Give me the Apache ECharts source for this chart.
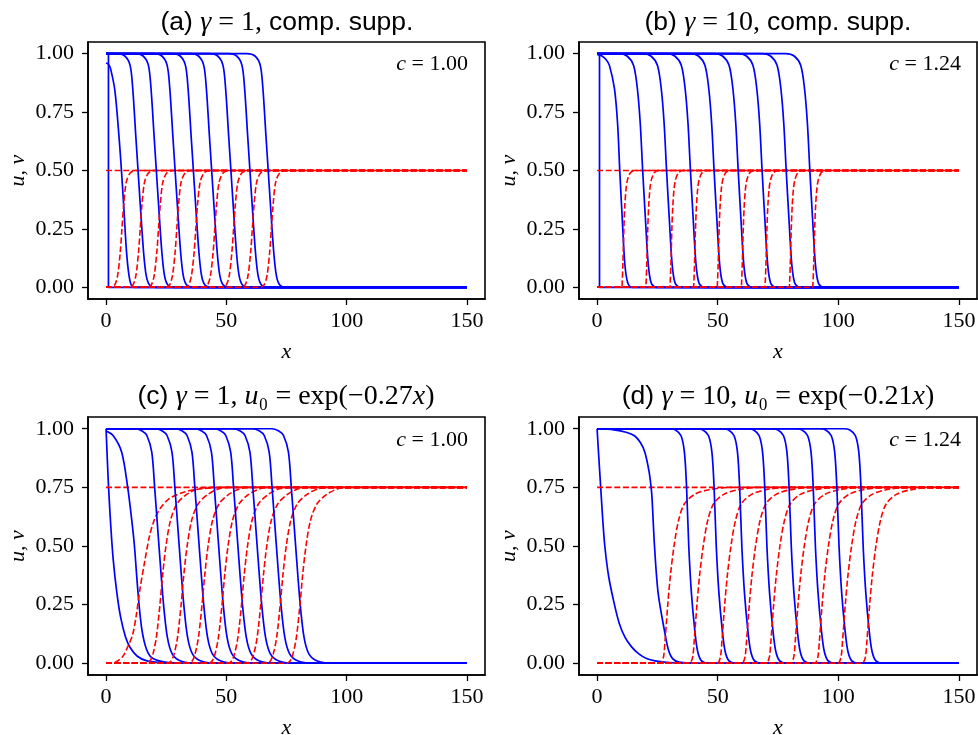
<!DOCTYPE html>
<html>
<head>
<meta charset="utf-8">
<script src="https://cdn.jsdelivr.net/npm/echarts@6/dist/echarts.min.js"></script>
<style>
html, body { margin: 0; padding: 0; background: #fff; }
#chart { width: 978px; height: 735px; }
</style>
</head>
<body>
<div id="chart"></div>
<script>
// tick values
const xTicks = [0, 50, 100, 150]
const yTicks = [0, 0.25, 0.5, 0.75, 1]

// (a) gamma = 1, compact support
const aBlueInit = [[0, 1], [1, 1], [1, 0], [150, 0]]
const aBlueFirst = [[0, 0.96], [1, 0.955], [1.9, 0.935], [3.7, 0.84], [5.5, 0.63], [6.4, 0.5], [7.4, 0.34], [8.6, 0.14], [9.9, 0.03], [11.5, 0], [150, 0]]
const aBlueFronts = [13.3, 20.9, 28.7, 36.3, 43.9, 51.9, 59.8, 67.4]
const aBlueLevels = [1, 0.99, 0.95, 0.85, 0.65, 0.5, 0.35, 0.15, 0.05, 0.01, 0]
const aBlueOffsets = [-9, -5.5, -3.3, -2.2, -0.95, 0, 0.95, 2.3, 3.4, 4.8, 7.5]
const aRedInit = [[0, 0.5], [150, 0.5]]
const aRedFronts = [6.6, 14.2, 21.8, 29.4, 37.3, 45.2, 53.0, 60.8, 68.7]
const aRedLevels = [0, 0.01, 0.05, 0.15, 0.25, 0.35, 0.45, 0.49, 0.5]
const aRedOffsets = [-4.5, -3, -1.8, -0.7, 0, 0.7, 1.8, 3.5, 6]

// (b) gamma = 10, compact support
const bBlueInit = [[0, 1], [1, 1], [1, 0], [150, 0]]
const bBlueFirst = [[0, 0.997], [2, 0.99], [3.7, 0.975], [5.1, 0.95], [7.2, 0.85], [8.5, 0.7], [9.4, 0.5], [10.4, 0.3], [11.5, 0.1], [12.7, 0.02], [14.5, 0], [150, 0]]
const bBlueFronts = [18.9, 28.8, 38.7, 48.5, 58.5, 68.4, 78.4, 88.2]
const bBlueLevels = [1, 0.99, 0.95, 0.85, 0.7, 0.5, 0.3, 0.1, 0.02, 0]
const bBlueOffsets = [-10, -6.5, -3.8, -2.2, -1, 0, 1.1, 2.3, 3.5, 5.5]
const bRedInit = [[0, 0.5], [150, 0.5]]
const bRedFronts = [11.1, 21.0, 31.0, 40.8, 50.6, 60.6, 70.4, 80.5, 90.2]
const bRedLevels = [0, 0.02, 0.1, 0.25, 0.35, 0.42, 0.46, 0.49, 0.5]
const bRedOffsets = [-0.9, -0.7, -0.4, 0, 0.4, 0.9, 1.5, 2.7, 4.5]

// (c) gamma = 1, u0 = exp(-0.27x)
const cBlueInit = [[0, 1], [1, 0.76], [2, 0.58], [3, 0.44], [4.5, 0.3], [6, 0.2], [8, 0.115], [10, 0.067], [13, 0.03], [17, 0.01], [25, 0.001], [35, 0], [150, 0]]
const cBlueFirst = [[0, 0.99], [3, 0.97], [6.5, 0.9], [9, 0.75], [10.8, 0.6], [11.8, 0.5], [13.3, 0.3], [14.8, 0.15], [16.8, 0.06], [19.5, 0.02], [26, 0.003], [35, 0], [150, 0]]
const cBlueFronts = [22, 30.4, 38.7, 46.8, 54.8, 62.8, 70.8, 78.8]
const cBlueLevels = [1, 0.99, 0.97, 0.9, 0.75, 0.5, 0.25, 0.11, 0.04, 0.01, 0]
const cBlueOffsets = [-10, -7, -5, -3, -1.8, 0, 1.9, 3.5, 5.5, 9, 16]
const cRedInit = [[0, 0.75], [150, 0.75]]
const cRedFirst = [[0, 0], [4, 0.005], [7, 0.03], [9, 0.07], [11, 0.12], [12.5, 0.2], [14, 0.31], [16, 0.43], [18, 0.54], [20, 0.61], [22.5, 0.66], [26, 0.7], [31, 0.725], [38, 0.742], [50, 0.75], [150, 0.75]]
const cRedFronts = [23.5, 32.3, 41, 49.3, 57.4, 65.4, 73.5, 81.7]
const cRedLevels = [0, 0.01, 0.04, 0.11, 0.25, 0.375, 0.5, 0.61, 0.68, 0.72, 0.745, 0.75]
const cRedOffsets = [-7, -5.2, -4, -2.6, -1.1, 0, 1.4, 3.3, 6, 10, 15, 21]

// (d) gamma = 10, u0 = exp(-0.21x)
const dBlueInit = [[0, 1], [0.7, 0.88], [1.5, 0.75], [2.3, 0.62], [3.2, 0.5], [4.8, 0.37], [7.2, 0.25], [9.2, 0.17], [11.6, 0.11], [14.3, 0.07], [17.3, 0.04], [20.5, 0.02], [24, 0.01], [30, 0.003], [40, 0], [150, 0]]
const dBlueFirst = [[0, 1], [7, 0.995], [12, 0.985], [15.5, 0.97], [18, 0.94], [19.8, 0.9], [21.5, 0.82], [22.4, 0.75], [22.8, 0.7], [23.8, 0.5], [25.3, 0.3], [27.9, 0.14], [29.5, 0.06], [31.3, 0.02], [34, 0.005], [42, 0], [150, 0]]
const dBlueFronts = [38.0, 49.4, 60.0, 70.4, 80.5, 90.5, 100.3, 110.3]
const dBlueLevels = [1, 0.995, 0.97, 0.9, 0.75, 0.5, 0.3, 0.14, 0.05, 0.01, 0]
const dBlueOffsets = [-8, -5.5, -3.2, -1.8, -0.9, 0, 1.1, 2.5, 3.7, 5.3, 8]
const dRedInit = [[0, 0.75], [150, 0.75]]
const dRedFronts = [30.4, 42.5, 54.0, 64.2, 74.3, 84.4, 94.4, 104.0, 114.1]
const dRedLevels = [0, 0.005, 0.03, 0.1, 0.25, 0.375, 0.5, 0.61, 0.68, 0.72, 0.74, 0.75]
const dRedOffsets = [-4.5, -3.6, -2.8, -2.2, -1.1, 0, 1.5, 3.4, 5.8, 10, 16, 25]

// build a front from its position and the panel's profile
function frontCurve (mid, offsets, levels) {
  const pts = [[0, levels[0]]]
  offsets.forEach(function (o, i) { pts.push([mid + o, levels[i]]) })
  pts.push([150, levels[levels.length - 1]])
  return pts
}

const panels = [
  {
    blue: [aBlueInit, aBlueFirst].concat(aBlueFronts.map(m => frontCurve(m, aBlueOffsets, aBlueLevels))),
    red: [aRedInit].concat(aRedFronts.map(m => frontCurve(m, aRedOffsets, aRedLevels)))
  },
  {
    blue: [bBlueInit, bBlueFirst].concat(bBlueFronts.map(m => frontCurve(m, bBlueOffsets, bBlueLevels))),
    red: [bRedInit].concat(bRedFronts.map(m => frontCurve(m, bRedOffsets, bRedLevels)))
  },
  {
    blue: [cBlueInit, cBlueFirst].concat(cBlueFronts.map(m => frontCurve(m, cBlueOffsets, cBlueLevels))),
    red: [cRedInit, cRedFirst].concat(cRedFronts.map(m => frontCurve(m, cRedOffsets, cRedLevels)))
  },
  {
    blue: [dBlueInit, dBlueFirst].concat(dBlueFronts.map(m => frontCurve(m, dBlueOffsets, dBlueLevels))),
    red: [dRedInit].concat(dRedFronts.map(m => frontCurve(m, dRedOffsets, dRedLevels)))
  }
]

const gridBoxes = [
  { left: 88, top: 42, width: 397, height: 257 },
  { left: 579, top: 42, width: 398, height: 257 },
  { left: 88, top: 417, width: 397, height: 258 },
  { left: 579, top: 417, width: 398, height: 258 }
]

const serif = 'Liberation Serif'
const sans = 'Liberation Sans'
const tickSize = 22
const titleSize = 26.5
const mathSize = 28

const grids = []
const xAxes = []
const yAxes = []
const series = []

gridBoxes.forEach(function (g, i) {
  grids.push(Object.assign({
    show: true,
    borderColor: '#000',
    borderWidth: 1.6,
    backgroundColor: '#fff',
    containLabel: false,
    outerBoundsMode: 'none'
  }, g))
  xAxes.push({
    type: 'value',
    gridIndex: i,
    min: -7.5,
    max: 157.5,
    name: 'x',
    nameLocation: 'middle',
    nameGap: 42,
    nameTextStyle: { fontFamily: serif, fontStyle: 'italic', fontSize: tickSize, color: '#000' },
    axisLine: { show: true, onZero: false, lineStyle: { color: '#000', width: 1.6 } },
    axisTick: { show: true, customValues: xTicks, length: 6, lineStyle: { color: '#000', width: 1.3 } },
    axisLabel: { customValues: xTicks, margin: 11, fontFamily: serif, fontSize: tickSize, color: '#000', formatter: v => String(v) },
    splitLine: { show: false }
  })
  yAxes.push({
    type: 'value',
    gridIndex: i,
    min: -0.05,
    max: 1.05,
    name: 'u, v',
    nameLocation: 'middle',
    nameGap: 59,
    nameTextStyle: { fontFamily: serif, fontStyle: 'italic', fontSize: tickSize, color: '#000' },
    axisLine: { show: true, onZero: false, lineStyle: { color: '#000', width: 1.6 } },
    axisTick: { show: true, customValues: yTicks, length: 6, lineStyle: { color: '#000', width: 1.3 } },
    axisLabel: { customValues: yTicks, margin: 14, fontFamily: serif, fontSize: tickSize, color: '#000', formatter: v => v.toFixed(2) },
    splitLine: { show: false }
  })
  const p = panels[i]
  for (let k = 0; k < 10; k++) {
    const pairs = [
      [p.blue[k], { color: '#0000ff', width: 1.7 }],
      [p.red[k], { color: '#ff0000', width: 1.6, type: [6, 2.6] }]
    ]
    pairs.forEach(function (pr) {
      series.push({
        type: 'line',
        xAxisIndex: i,
        yAxisIndex: i,
        data: pr[0],
        showSymbol: false,
        symbol: 'none',
        smooth: pr[0] === aBlueInit || pr[0] === bBlueInit || pr[0].length === 2 ? false : 0.3,
        lineStyle: pr[1],
        silent: true
      })
    })
  }
})

const richTitle = {
  s: { fontFamily: sans, fontSize: titleSize, color: '#000' },
  m: { fontFamily: serif, fontStyle: 'italic', fontSize: mathSize, color: '#000' },
  r: { fontFamily: serif, fontSize: mathSize, color: '#000' }
}
const richNote = {
  m: { fontFamily: serif, fontStyle: 'italic', fontSize: tickSize, color: '#000' },
  r: { fontFamily: serif, fontSize: tickSize, color: '#000' }
}

function label (text, x, y, align, rich) {
  return { type: 'text', z: 100, style: { text: text, x: x, y: y, align: align, verticalAlign: 'middle', rich: rich } }
}

const option = {
  animation: false,
  backgroundColor: '#fff',
  grid: grids,
  xAxis: xAxes,
  yAxis: yAxes,
  series: series,
  graphic: [
    label('{s|(a) }{m|γ}{r| = 1, }{s|comp. supp.}', 287, 23, 'center', richTitle),
    label('{s|(b) }{m|γ}{r| = 10, }{s|comp. supp.}', 778, 23, 'center', richTitle),
    label('{s|(c) }{m|γ}{r| = 1, }{m|u}{r|₀ = exp(−0.27}{m|x}{r|)}', 286, 397, 'center', richTitle),
    label('{s|(d) }{m|γ}{r| = 10, }{m|u}{r|₀ = exp(−0.21}{m|x}{r|)}', 778, 397, 'center', richTitle),
    label('{m|c}{r| = 1.00}', 468, 64, 'right', richNote),
    label('{m|c}{r| = 1.24}', 961, 64, 'right', richNote),
    label('{m|c}{r| = 1.00}', 468, 440, 'right', richNote),
    label('{m|c}{r| = 1.24}', 961, 440, 'right', richNote)
  ]
}

const chart = echarts.init(document.getElementById('chart'))
chart.setOption(option)
window.addEventListener('resize', function () { chart.resize() })
</script>
</body>
</html>
